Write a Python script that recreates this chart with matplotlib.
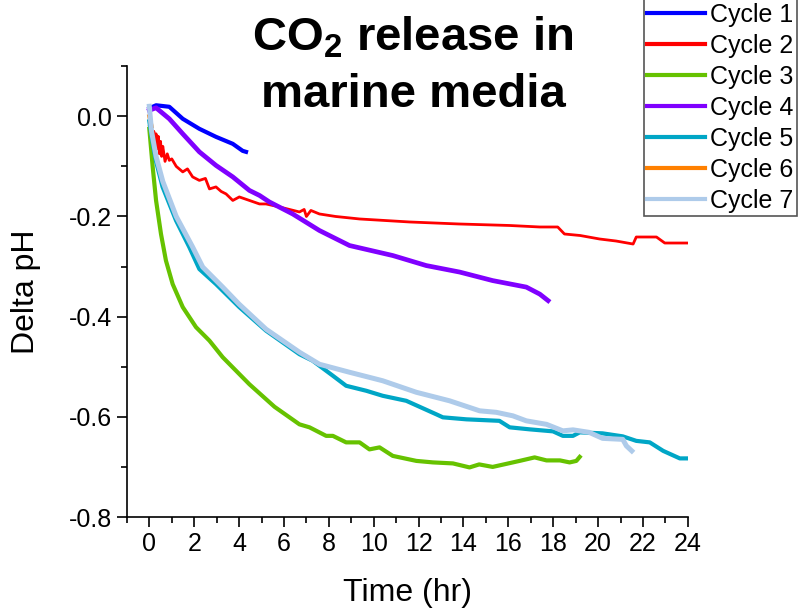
import matplotlib
matplotlib.use("Agg")
import matplotlib.pyplot as plt
from matplotlib.ticker import MultipleLocator

plt.rcParams['font.family'] = ['Liberation Sans', 'DejaVu Sans']
plt.rcParams['axes.unicode_minus'] = False
plt.rcParams['mathtext.fontset'] = 'custom'
plt.rcParams['mathtext.rm'] = 'Liberation Sans'
plt.rcParams['mathtext.bf'] = 'Liberation Sans:bold'

# time (hr) and delta pH
c1_t = [0.0, 0.3, 0.89, 1.49, 2.23, 2.97, 3.72, 4.16, 4.31]
c1_y = [0.016, 0.022, 0.019, -0.005, -0.025, -0.041, -0.055, -0.069, -0.071]

c2_t = [0.0, 0.05, 0.1, 0.15, 0.2, 0.25, 0.3, 0.35, 0.4, 0.45, 0.5, 0.55, 0.6, 0.7,
        0.8, 0.89, 1.0, 1.2, 1.49, 1.7, 1.93, 2.23, 2.5, 2.68, 2.97, 3.2, 3.42, 3.72,
        4.01, 4.46, 4.91, 5.2, 5.8, 6.69, 6.9, 7.0, 7.2, 7.58, 8.3, 9.37, 11.6, 13.8,
        16.06, 17.4, 18.2, 18.5, 19.2, 20.07, 20.8, 21.56, 21.7, 22.6, 22.97, 24.08]
c2_y = [-0.02, -0.04, -0.02, -0.06, -0.03, -0.07, -0.035, -0.065, -0.04, -0.075,
        -0.05, -0.08, -0.06, -0.09, -0.075, -0.088, -0.085, -0.1, -0.111, -0.105,
        -0.121, -0.128, -0.124, -0.145, -0.141, -0.15, -0.155, -0.168, -0.161, -0.168,
        -0.175, -0.175, -0.181, -0.191, -0.186, -0.2, -0.188, -0.195, -0.2, -0.205,
        -0.211, -0.215, -0.218, -0.221, -0.221, -0.235, -0.238, -0.245, -0.249, -0.255,
        -0.241, -0.241, -0.253, -0.253]

c3_t = [0.0, 0.15, 0.3, 0.52, 0.74, 1.04, 1.49, 2.08, 2.68, 3.27, 4.46, 5.58, 6.69,
        7.14, 7.88, 8.18, 8.77, 9.37, 9.81, 10.26, 10.85, 11.9, 12.64, 13.53, 14.27,
        14.7, 15.3, 16.5, 17.17, 17.7, 18.3, 18.73, 19.03, 19.18]
c3_y = [-0.025, -0.101, -0.168, -0.235, -0.288, -0.335, -0.381, -0.421, -0.448, -0.481,
        -0.535, -0.58, -0.615, -0.621, -0.638, -0.638, -0.651, -0.651, -0.665, -0.661,
        -0.678, -0.688, -0.691, -0.693, -0.701, -0.695, -0.7, -0.688, -0.681, -0.687,
        -0.687, -0.691, -0.688, -0.68]

c4_t = [0.0, 0.3, 0.89, 1.49, 2.23, 2.97, 3.72, 4.46, 4.91, 5.35, 6.39, 7.58, 8.92,
        10.85, 12.34, 13.83, 15.3, 16.8, 17.4, 17.77]
c4_y = [0.012, 0.017, -0.005, -0.035, -0.071, -0.098, -0.121, -0.148, -0.158, -0.171,
        -0.195, -0.228, -0.258, -0.278, -0.298, -0.311, -0.328, -0.341, -0.355, -0.368]

c5_t = [0.0, 0.15, 0.3, 0.59, 1.19, 1.78, 2.23, 2.97, 4.01, 5.2, 6.69, 7.28, 8.18, 8.77,
        9.67, 10.4, 11.45, 12.79, 13.08, 14.13, 15.6, 16.06, 16.95, 17.99, 18.43, 18.88,
        19.18, 20.2, 21.1, 21.7, 22.3, 22.9, 23.64, 23.94]
c5_y = [-0.01, -0.054, -0.09, -0.141, -0.208, -0.261, -0.305, -0.335, -0.381, -0.428,
        -0.475, -0.488, -0.518, -0.538, -0.548, -0.558, -0.568, -0.595, -0.601, -0.605,
        -0.608, -0.621, -0.625, -0.629, -0.638, -0.638, -0.631, -0.633, -0.639, -0.648,
        -0.651, -0.668, -0.683, -0.683]

c6_t = [0.0, 0.05, 0.1]
c6_y = [0.0, -0.01, -0.02]

c7_t = [0.0, 0.1, 0.3, 0.6, 1.2, 1.93, 2.38, 3.27, 4.0, 5.2, 6.69, 7.58, 8.92, 10.4,
        11.9, 13.38, 14.72, 15.46, 16.2, 16.8, 17.7, 18.43, 18.88, 19.6, 20.2, 21.1,
        21.26, 21.5]
c7_y = [0.02, -0.03, -0.08, -0.13, -0.2, -0.261, -0.301, -0.341, -0.375, -0.425,
        -0.471, -0.495, -0.511, -0.528, -0.551, -0.568, -0.588, -0.591, -0.598, -0.608,
        -0.615, -0.628, -0.626, -0.631, -0.643, -0.645, -0.658, -0.668]

fig = plt.figure(figsize=(7.98, 6.13), dpi=100)
ax = fig.add_axes([0.159, 0.1566, 0.703, 0.7354])

ax.plot(c1_t, c1_y, color='#0000FF', lw=3.0, label='Cycle 1')
ax.plot(c2_t, c2_y, color='#FF0000', lw=2.0, label='Cycle 2')
ax.plot(c3_t, c3_y, color='#66C200', lw=3.0, label='Cycle 3')
ax.plot(c4_t, c4_y, color='#8000FF', lw=3.4, label='Cycle 4')
ax.plot(c5_t, c5_y, color='#00A6C6', lw=3.0, label='Cycle 5')
ax.plot(c6_t, c6_y, color='#FF8000', lw=3.0, label='Cycle 6')
ax.plot(c7_t, c7_y, color='#AECBEA', lw=3.6, label='Cycle 7')

ax.set_xlim(-1, 24)
ax.set_ylim(-0.8, 0.1)
ax.xaxis.set_major_locator(MultipleLocator(2))
ax.xaxis.set_minor_locator(MultipleLocator(1))
ax.yaxis.set_major_locator(MultipleLocator(0.2))
ax.yaxis.set_minor_locator(MultipleLocator(0.1))
ax.set_xticks(range(0, 25, 2))
ax.set_yticks([-0.8, -0.6, -0.4, -0.2, 0.0])
ax.set_yticklabels(['-0.8', '-0.6', '-0.4', '-0.2', '0.0'])

ax.spines['top'].set_visible(False)
ax.spines['right'].set_visible(False)
for s in ['left', 'bottom']:
    ax.spines[s].set_linewidth(1.2)
ax.tick_params(which='major', length=7, width=1.2, labelsize=18, direction='out')
ax.tick_params(which='minor', length=4, width=1.2, direction='out')

ax.set_xlabel('Time (hr)', fontsize=23, labelpad=16)
ax.set_ylabel('Delta pH', fontsize=23, labelpad=20)

fig.text(0.5175, 0.918, r'CO$_\mathbf{2}$ release in', fontsize=34, fontweight='bold',
         ha='center', va='baseline')
fig.text(0.5175, 0.8254, 'marine media', fontsize=34, fontweight='bold',
         ha='center', va='baseline')

leg = fig.legend(loc='upper right', bbox_to_anchor=(0.9987, 1.002), fontsize=18,
                 frameon=True, fancybox=False, framealpha=1, edgecolor='#555555',
                 handlelength=2.3, handletextpad=0.2, labelspacing=0.28,
                 borderpad=0.15, borderaxespad=0)
leg.get_frame().set_linewidth(1.2)
for line in leg.get_lines():
    line.set_linewidth(3)

fig.savefig('out.png', dpi=100)
